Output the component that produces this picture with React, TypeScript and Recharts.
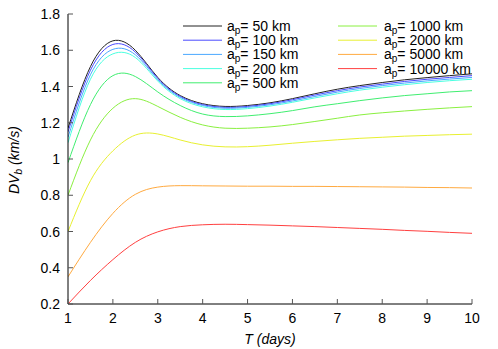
import React from "react";
import { LineChart, Line, XAxis, YAxis, Legend } from "recharts";

const T_DAYS = [1, 1.5, 2, 2.5, 3, 3.5, 4, 4.5, 5, 5.5, 6, 6.5, 7, 7.5, 8, 8.5, 9, 9.5, 10];

const AP_50 = [1.17, 1.51, 1.652, 1.6, 1.45, 1.35, 1.305, 1.29, 1.295, 1.31, 1.333, 1.36, 1.385, 1.405, 1.422, 1.437, 1.449, 1.46, 1.47];
const AP_100 = [1.15, 1.49, 1.632, 1.59, 1.445, 1.345, 1.3, 1.285, 1.29, 1.305, 1.327, 1.353, 1.377, 1.397, 1.413, 1.428, 1.44, 1.45, 1.46];
const AP_150 = [1.12, 1.465, 1.605, 1.575, 1.438, 1.34, 1.295, 1.28, 1.285, 1.299, 1.32, 1.345, 1.369, 1.389, 1.405, 1.419, 1.431, 1.441, 1.45];
const AP_200 = [1.09, 1.44, 1.58, 1.56, 1.43, 1.333, 1.288, 1.273, 1.278, 1.292, 1.313, 1.337, 1.36, 1.38, 1.396, 1.41, 1.422, 1.432, 1.44];
const AP_500 = [0.98, 1.3, 1.46, 1.455, 1.37, 1.295, 1.248, 1.234, 1.238, 1.25, 1.267, 1.288, 1.305, 1.322, 1.337, 1.35, 1.36, 1.37, 1.377];
const AP_1000 = [0.8, 1.105, 1.28, 1.333, 1.29, 1.23, 1.188, 1.17, 1.17, 1.177, 1.19, 1.207, 1.225, 1.243, 1.255, 1.265, 1.274, 1.282, 1.289];
const AP_2000 = [0.6, 0.88, 1.045, 1.132, 1.138, 1.105, 1.078, 1.067, 1.068, 1.076, 1.087, 1.097, 1.106, 1.114, 1.12, 1.126, 1.13, 1.134, 1.137];
const AP_5000 = [0.35, 0.54, 0.7, 0.805, 0.845, 0.853, 0.852, 0.851, 0.85, 0.85, 0.849, 0.849, 0.848, 0.847, 0.846, 0.845, 0.843, 0.842, 0.84];
const AP_10000 = [0.2, 0.33, 0.445, 0.54, 0.598, 0.627, 0.637, 0.64, 0.638, 0.635, 0.631, 0.627, 0.622, 0.617, 0.612, 0.606, 0.601, 0.595, 0.59];

const X_TICKS = [1, 2, 3, 4, 5, 6, 7, 8, 9, 10];
const Y_TICKS = [0.2, 0.4, 0.6, 0.8, 1, 1.2, 1.4, 1.6, 1.8];

const SERIES = [
  { key: "s50", label: "50 km", values: AP_50, color: "#222222" },
  { key: "s100", label: "100 km", values: AP_100, color: "#4a4aff" },
  { key: "s150", label: "150 km", values: AP_150, color: "#4aa8ff" },
  { key: "s200", label: "200 km", values: AP_200, color: "#4affe0" },
  { key: "s500", label: "500 km", values: AP_500, color: "#40ee70" },
  { key: "s1000", label: "1000 km", values: AP_1000, color: "#8af040" },
  { key: "s2000", label: "2000 km", values: AP_2000, color: "#e8f030" },
  { key: "s5000", label: "5000 km", values: AP_5000, color: "#ffaa40" },
  { key: "s10000", label: "10000 km", values: AP_10000, color: "#ff4040" },
];

const data = T_DAYS.map((t, i) => {
  const row: Record<string, number> = { t };
  SERIES.forEach((s) => (row[s.key] = s.values[i]));
  return row;
});

const FONT = "'Liberation Sans', Arial, sans-serif";
const TICK_LEN = 5;

const BottomTick = ({ x, y, payload }: any) => (
  <g>
    <line x1={x} x2={x} y1={y} y2={y - TICK_LEN} stroke="#555" />
    <text x={x} y={y + 19} textAnchor="middle" fontSize={14} fontFamily={FONT} fill="#000">
      {String(payload.value)}
    </text>
  </g>
);

const TopTick = ({ x, y }: any) => (
  <line x1={x} x2={x} y1={y} y2={y + TICK_LEN} stroke="#555" />
);

const LeftTick = ({ x, y, payload }: any) => (
  <g>
    <line x1={x} x2={x + TICK_LEN} y1={y} y2={y} stroke="#555" />
    <text x={x - 8} y={y + 5} textAnchor="end" fontSize={14} fontFamily={FONT} fill="#000">
      {String(payload.value)}
    </text>
  </g>
);

const RightTick = ({ x, y }: any) => (
  <line x1={x} x2={x - TICK_LEN} y1={y} y2={y} stroke="#555" />
);

// gnuplot-style key: two columns, filled column by column in series order
const KeyContent = ({ payload }: any) => {
  const byName: Record<string, string> = {};
  (payload || []).forEach((p: any) => (byName[p.value] = p.color));
  return (
    <svg width={320} height={80} style={{ display: "block" }}>
      {SERIES.map((s, i) => {
        const col = i < 5 ? 0 : 1;
        const row = i < 5 ? i : i - 5;
        const lx = col === 0 ? 5 : 160;
        const ly = 10 + row * 14.2;
        return (
          <g key={s.key}>
            <line x1={lx} x2={lx + 39} y1={ly} y2={ly} stroke={byName[s.label] || s.color} strokeWidth={1} />
            <text x={lx + (col === 0 ? 44 : 46)} y={ly + 5} fontSize={14} fontFamily={FONT} fill="#000">
              a
              <tspan fontSize={10} dy={3}>p</tspan>
              <tspan dy={-3}>{"= " + s.label}</tspan>
            </text>
          </g>
        );
      })}
    </svg>
  );
};

export default function App() {
  return (
    <div style={{ width: 498, height: 349, position: "relative" }}>
      <style>{"body{margin:0}"}</style>
      <LineChart width={498} height={349} data={data} margin={{ top: 14, right: 26, bottom: 0, left: 0 }}>
        <XAxis
          dataKey="t"
          type="number"
          domain={[1, 10]}
          ticks={X_TICKS}
          allowDataOverflow
          height={45}
          tickSize={0}
          tickMargin={0}
          tickLine={false}
          axisLine={{ stroke: "#000" }}
          tick={<BottomTick />}
          label={{
            content: () => (
              <text x={270} y={344} textAnchor="middle" fontSize={14} fontStyle="italic" fontFamily={FONT} fill="#000">
                T (days)
              </text>
            ),
          }}
        />
        <XAxis
          xAxisId="top"
          orientation="top"
          dataKey="t"
          type="number"
          domain={[1, 10]}
          ticks={X_TICKS}
          allowDataOverflow
          height={0}
          tickSize={0}
          tickMargin={0}
          tickLine={false}
          axisLine={{ stroke: "#000" }}
          tick={<TopTick />}
        />
        <YAxis
          type="number"
          domain={[0.2, 1.8]}
          ticks={Y_TICKS}
          allowDataOverflow
          width={68}
          tickSize={0}
          tickMargin={0}
          tickLine={false}
          axisLine={{ stroke: "#000" }}
          tick={<LeftTick />}
          label={{
            content: () => (
              <text
                transform="translate(18.5,160) rotate(-90)"
                textAnchor="middle"
                fontSize={14}
                fontStyle="italic"
                fontFamily={FONT}
                fill="#000"
              >
                DV
                <tspan fontSize={10} dy={3}>b</tspan>
                <tspan dy={-3}> (km/s)</tspan>
              </text>
            ),
          }}
        />
        <YAxis
          yAxisId="right"
          orientation="right"
          type="number"
          domain={[0.2, 1.8]}
          ticks={Y_TICKS}
          allowDataOverflow
          width={0}
          tickSize={0}
          tickMargin={0}
          tickLine={false}
          axisLine={{ stroke: "#000" }}
          tick={<RightTick />}
        />
        <Legend
          layout="horizontal"
          verticalAlign="middle"
          align="center"
          wrapperStyle={{ position: "absolute", left: 178, top: 16, width: 320, height: 80 }}
          content={<KeyContent />}
        />
        {SERIES.map((s) => (
          <Line
            key={s.key}
            dataKey={s.key}
            name={s.label}
            type="natural"
            stroke={s.color}
            strokeWidth={1}
            dot={false}
            activeDot={false}
            isAnimationActive={false}
          />
        ))}
      </LineChart>
    </div>
  );
}
